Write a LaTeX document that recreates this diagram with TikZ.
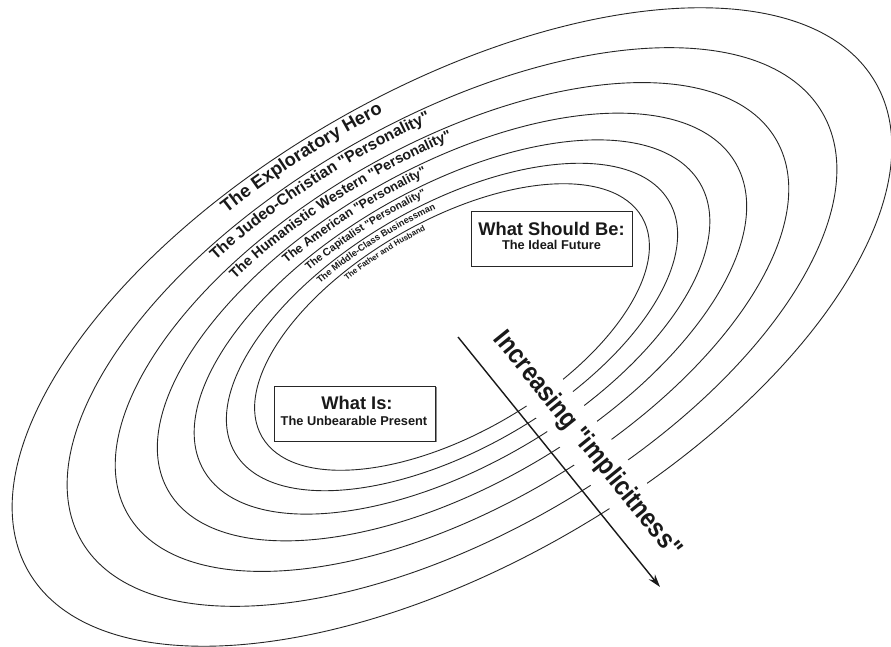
\documentclass[tikz,border=0pt]{standalone}
\usepackage{fontspec}
\setmainfont{Liberation Sans}[Ligatures=TeXOff]
\newfontfamily\condfont[FakeStretch=0.87,Ligatures=TeXOff]{Liberation Sans}
\usetikzlibrary{decorations.text,arrows.meta}
\newcommand\lblfont[1]{\bfseries\fontsize{#1}{#1}\selectfont}
\begin{document}
\begin{tikzpicture}[x=1pt,y=1pt,
  ring/.style={draw=black!85, line width=0.9pt},
  ovbox/.style={draw=black!85, fill=white, line width=0.9pt, minimum width=161pt, minimum height=55pt, inner sep=0pt},
  shadowbox/.style={fill=black!45, minimum width=161pt, minimum height=55pt, inner sep=0pt},
  txt/.style={anchor=base, inner sep=0pt, text=black!90}]
\useasboundingbox (0,0) rectangle (891,646);
\fill[white] (0,0) rectangle (891,646);
\begin{scope}[shift={(452,319)}, rotate=30]
  \foreach \s in {1,0.875,0.765625,0.669922,0.586182,0.512909,0.448795}
    \draw[ring] (0,0) ellipse [x radius=489pt*\s, y radius=237pt*\s];
  \path[decorate, decoration={text along path, text color=black!90, text={|\lblfont{18.3}|The Exploratory Hero}}]
    (107:473pt and 221pt) arc[start angle=107, end angle=40, x radius=473pt, y radius=221pt];
  \path[decorate, decoration={text along path, text color=black!90, text={|\lblfont{15.8}|The Judeo-Christian "Personality"}}]
    (114.5:413.7pt and 193.2pt) arc[start angle=114.5, end angle=30, x radius=413.7pt, y radius=193.2pt];
  \path[decorate, decoration={text along path, text color=black!90, text={|\lblfont{14.2}|The Humanistic Western "Personality"}}]
    (117:361.4pt and 168.4pt) arc[start angle=117, end angle=25, x radius=361.4pt, y radius=168.4pt];
  \path[decorate, decoration={text along path, text color=black!90, text={|\lblfont{12.6}|The American "Personality"}}]
    (110.7:315.6pt and 146.8pt) arc[start angle=110.7, end angle=30, x radius=315.6pt, y radius=146.8pt];
  \path[decorate, decoration={text along path, text color=black!90, text={|\lblfont{10.6}|The Capitalist "Personality"}}]
    (110.3:276pt and 128.3pt) arc[start angle=110.3, end angle=30, x radius=276pt, y radius=128.3pt];
  \path[decorate, decoration={text along path, text color=black!90, text={|\lblfont{9.2}|The Middle-Class Businessman}}]
    (112.6:241.2pt and 112pt) arc[start angle=112.6, end angle=30, x radius=241.2pt, y radius=112pt];
  \path[decorate, decoration={text along path, text color=black!90, text={|\lblfont{8}|The Father and Husband}}]
    (108.8:210.7pt and 97.6pt) arc[start angle=108.8, end angle=30, x radius=210.7pt, y radius=97.6pt];
\end{scope}

% boxes
\node[shadowbox] (sh1) at (552.7,406.3) {};
\node[ovbox] (future) at (551.5,407.5) {};
\node[txt, font=\lblfont{18.3}] (futureT) at (551.5,410) {What Should Be:};
\node[txt, font=\lblfont{12.8}] (futureS) at (551.5,396) {The Ideal Future};

\node[shadowbox] (sh2) at (356.2,231.3) {};
\node[ovbox] (present) at (355,232.5) {};
\node[txt, font=\lblfont{18.3}] (presentT) at (357,237) {What Is:};
\node[txt, font=\lblfont{12.8}] (presentS) at (354,221) {The Unbearable Present};

% implicitness band and arrow
\node[fill=white, rotate=-51.06, inner xsep=5pt, inner ysep=9.8pt, font={\condfont\bfseries\fontsize{27}{27}\selectfont}, text=black!90] (incr) at (587,201.1) {Increasing "implicitness"};
\coordinate (arrS) at (458,309);
\coordinate (arrE) at (660,59);
\draw[-{Stealth[length=13pt,width=8pt]}, line width=1.4pt, black!90] (arrS) -- (arrE);
\end{tikzpicture}
\end{document}
